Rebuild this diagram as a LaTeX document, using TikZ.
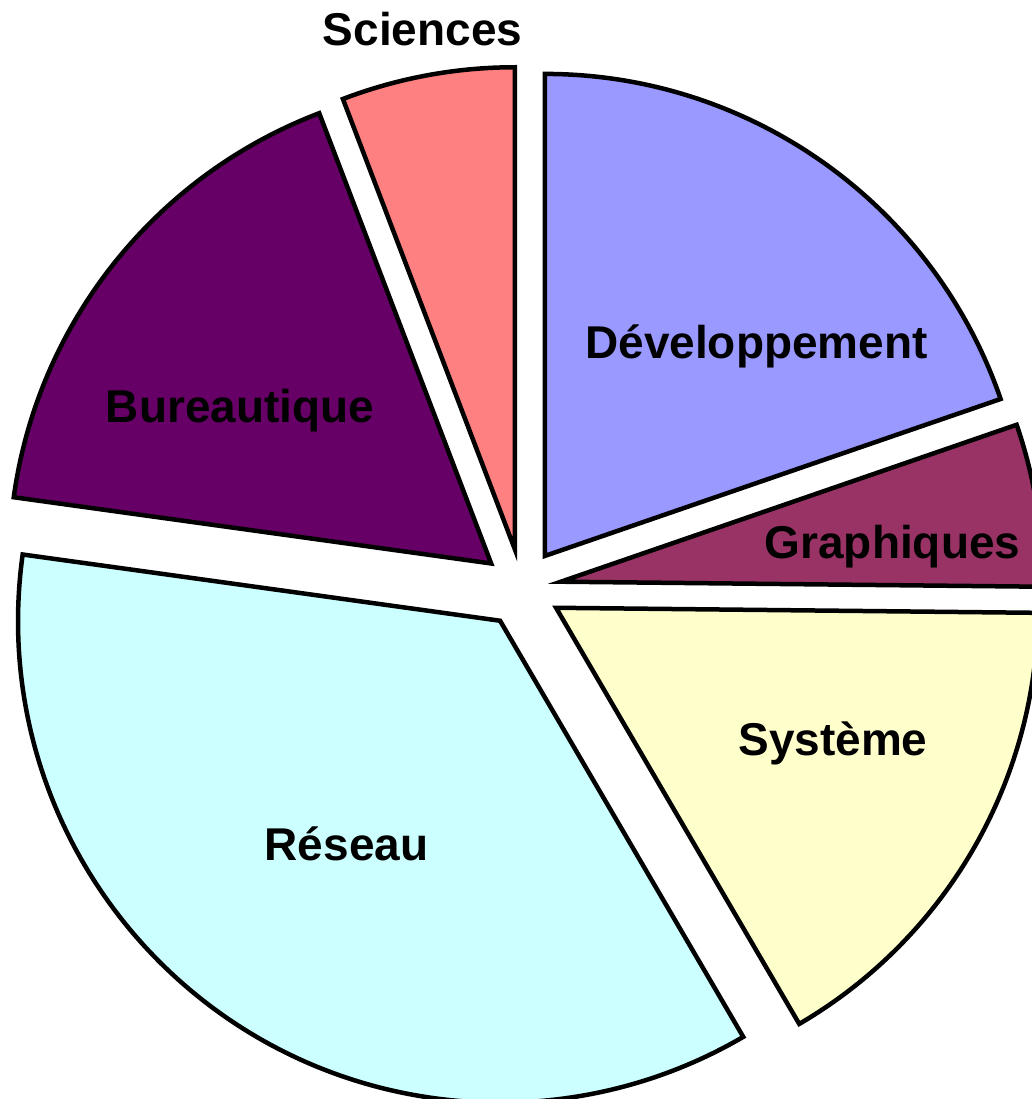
\documentclass[tikz,border=0pt]{standalone}
\usepackage{fontspec}
\setmainfont{Liberation Sans}
\usepackage{tikz}
\usepackage{xcolor}

\definecolor{devcol}{HTML}{9999FF}
\definecolor{grcol}{HTML}{993366}
\definecolor{syscol}{HTML}{FFFFCC}
\definecolor{rescol}{HTML}{CCFFFF}
\definecolor{burcol}{HTML}{660066}
\definecolor{scicol}{HTML}{FF8080}

\begin{document}
\begin{tikzpicture}[x=0.025cm,y=0.025cm,line width=3.2pt]
  \tikzstyle{lbl}=[anchor=base,inner sep=0pt,font=\fontsize{32.7}{39}\selectfont\bfseries]

  \useasboundingbox (-522,-511) rectangle (510,588);
  \clip (-522,-511) rectangle (510,588);

  % exploded slices: start/end angle/colour
  \foreach \a/\b/\c in {19/90/devcol, -0.6/19/grcol, -59.7/-0.6/syscol,
                        172.1/300.3/rescol, 110.9/172.1/burcol, 90/110.9/scicol}
    \draw[fill=\c] ({(\a+\b)/2}:39.4) -- +(\a:482) arc (\a:\b:482) -- cycle;

  \node[lbl] (sci) at (-99.5,542)  {Sciences};
  \node[lbl] (dev) at (234.5,230)  {Développement};
  \node[lbl] (gra) at (370.5,30)   {Graphiques};
  \node[lbl] (sys) at (311,-167)   {Système};
  \node[lbl] (res) at (-175.5,-272){Réseau};
  \node[lbl] (bur) at (-282,165)   {Bureautique};
\end{tikzpicture}
\end{document}
